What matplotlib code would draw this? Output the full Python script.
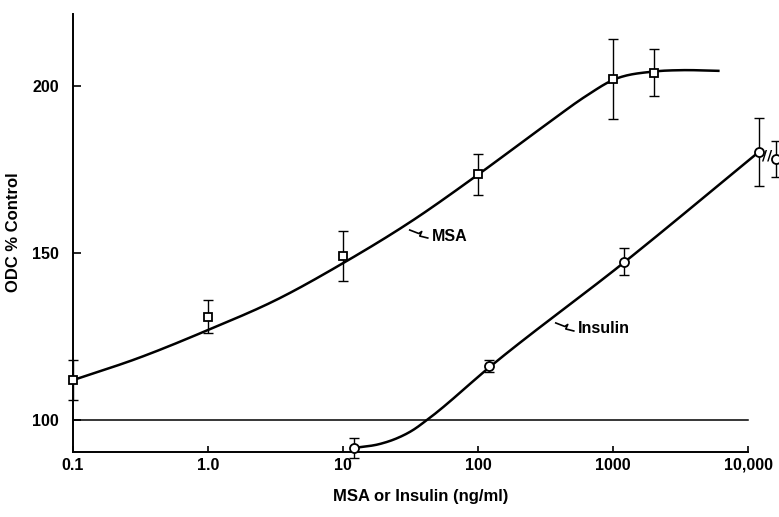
import numpy as np
import matplotlib
matplotlib.use("Agg")
import matplotlib.pyplot as plt
import matplotlib.transforms as mtransforms

# MSA (squares), mean +/- error
msa_dose = [0.1, 1.0, 10, 100, 1000, 2000]
msa_odc = [112, 131, 149, 173.5, 202, 204]
msa_err = [6, 5, 7.5, 6, 12, 7]

# fitted MSA curve
msa_fit_dose = [0.1, 0.3, 1.0, 3.2, 10, 32, 100, 320, 630, 1000, 2000, 3200, 6000]
msa_fit_odc = [112, 118.5, 127, 136, 147, 159.5, 173.5, 188.5, 197, 201.8, 204.3, 204.7, 204.5]

# Insulin (circles)
ins_dose = [12, 120, 1200, 12000]
ins_odc = [91.7, 116.2, 147.4, 180.3]
ins_err = [3, 1.8, 4, 10.2]

# point drawn past the axis break
ins_extra_dose = [16000]
ins_extra_odc = [178]
ins_extra_err = [5.4]

ins_fit_dose = [12, 18.7, 25, 33, 41.5, 124, 1220, 12000]
ins_fit_odc = [91.7, 92.9, 94.6, 97.1, 100, 116.2, 147.4, 180.3]

xticks = [0.1, 1, 10, 100, 1000, 10000]
xticklabels = ["0.1", "1.0", "10", "100", "1000", "10,000"]
yticks = [100, 150, 200]


def smooth(xs, ys, n=300):
    # cubic Hermite (Catmull-Rom style tangents) in log-dose space
    lx = np.log10(xs)
    ys = np.asarray(ys, float)
    m = np.gradient(ys, lx)
    out_x, out_y = [], []
    for i in range(len(lx) - 1):
        h = lx[i + 1] - lx[i]
        t = np.linspace(0, 1, n // len(lx) + 2)
        h00 = 2 * t**3 - 3 * t**2 + 1
        h10 = t**3 - 2 * t**2 + t
        h01 = -2 * t**3 + 3 * t**2
        h11 = t**3 - t**2
        out_x.append(lx[i] + t * h)
        out_y.append(h00 * ys[i] + h10 * h * m[i] + h01 * ys[i + 1] + h11 * h * m[i + 1])
    return 10 ** np.concatenate(out_x), np.concatenate(out_y)


plt.rcParams.update({
    "font.family": ["Liberation Sans", "DejaVu Sans"],
    "font.weight": "bold",
    "axes.labelweight": "bold",
    "font.size": 11.5,
})

fig = plt.figure(figsize=(7.79, 5.17), dpi=100)
ax = fig.add_axes([73 / 779, 65 / 517, 706 / 779, 438 / 517])
ax.set_xscale("log")
ax.set_xlim(0.1, 10 ** 4.227)
ax.set_ylim(90.5, 221.5)

# control level
ax.plot([0.1, 10000], [100, 100], color="black", lw=1.1, zorder=1)

x, y = smooth(msa_fit_dose, msa_fit_odc)
ax.plot(x, y, color="black", lw=1.8, zorder=2)
x, y = smooth(ins_fit_dose, ins_fit_odc)
ax.plot(x, y, color="black", lw=1.8, zorder=2)

ebkw = dict(fmt="none", ecolor="black", elinewidth=1.0, capsize=3.8, capthick=1.0, zorder=3)
for e in [ax.errorbar(msa_dose, msa_odc, yerr=msa_err, **ebkw),
          ax.errorbar(ins_dose, ins_odc, yerr=ins_err, **ebkw),
          ax.errorbar(ins_extra_dose, ins_extra_odc, yerr=ins_extra_err, **ebkw)]:
    for art in e.lines[1] + e.lines[2]:
        art.set_clip_on(False)

ax.plot(msa_dose, msa_odc, ls="none", marker="s", ms=6, mfc="white", mec="black",
        mew=1.3, zorder=4, clip_on=False)
ax.plot(ins_dose + ins_extra_dose, ins_odc + ins_extra_odc, ls="none", marker="o", ms=6.5,
        mfc="white", mec="black", mew=1.3, zorder=4, clip_on=False)

# axis break marks between the last two insulin points
bx = np.sqrt(ins_dose[-1] * ins_extra_dose[0])
by = (ins_odc[-1] + ins_extra_odc[0]) / 2
ax.text(bx, by, "//", ha="center", va="center", fontsize=10, fontweight="bold",
        family="DejaVu Sans", zorder=5)


def squiggle(xd, yd):
    # small hand-drawn leader ending at a label's left edge (offsets in px)
    px = np.array([-22, -13, -10, -12, -4])
    py = np.array([6, 2.5, 4.5, 0, -2])
    tr = (mtransforms.Affine2D().scale(1 / 100.0) + fig.dpi_scale_trans
          + mtransforms.ScaledTranslation(xd, yd, ax.transData))
    ax.plot(px, py, color="black", lw=1.2, transform=tr, clip_on=False)


ax.text(45.3, 155.1, "MSA", ha="left", va="center", fontsize=11.5)
squiggle(45.3, 155.1)
ax.text(546, 127.3, "Insulin", ha="left", va="center", fontsize=11.5)
squiggle(546, 127.3)

ax.spines["top"].set_visible(False)
ax.spines["right"].set_visible(False)
ax.spines["bottom"].set_bounds(0.1, 10000)
for s in ("left", "bottom"):
    ax.spines[s].set_linewidth(1.4)

ax.set_xticks(xticks)
ax.set_xticklabels(xticklabels)
ax.xaxis.set_minor_locator(matplotlib.ticker.NullLocator())
ax.set_yticks(yticks)
ax.tick_params(axis="x", direction="in", length=4, width=1.2, pad=4)
ax.tick_params(axis="y", direction="in", length=6, width=1.2, pad=10)

ax.set_xlabel("MSA or Insulin (ng/ml)", fontsize=12, fontweight="bold")
ax.xaxis.set_label_coords((421 - 73) / 706, -(489 - 452) / 438)
ax.set_ylabel("ODC % Control", fontsize=12, fontweight="bold")
ax.yaxis.set_label_coords(-(73 - 21) / 706, (452 - 232) / 438)

fig.savefig("out.png", dpi=100)
